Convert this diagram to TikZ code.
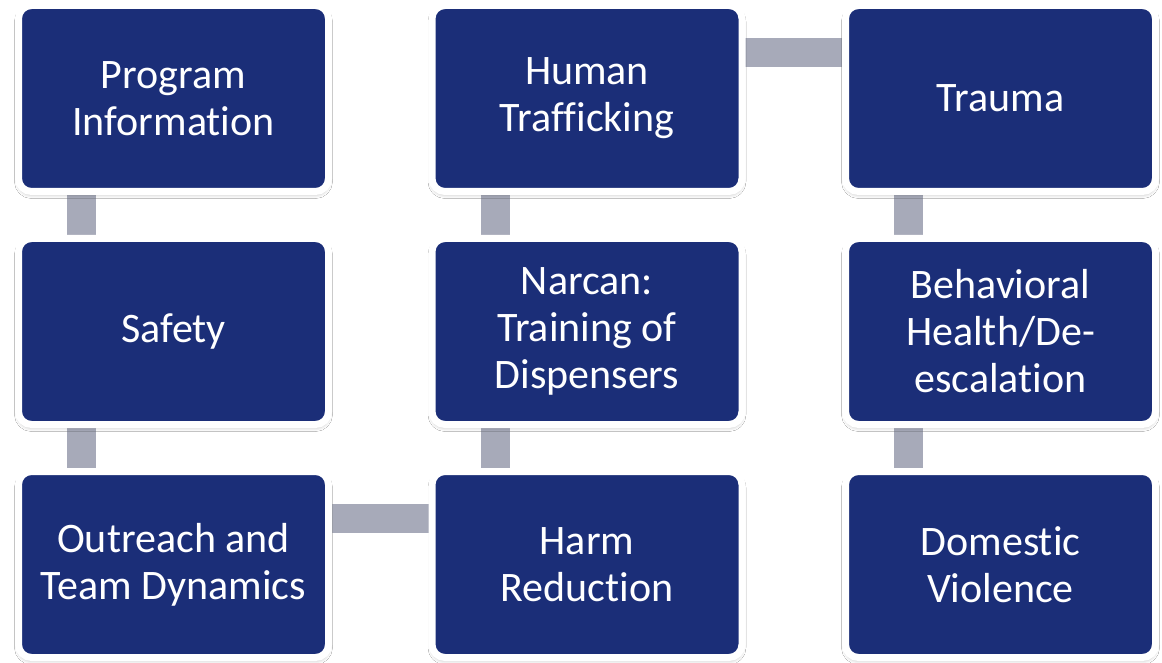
\documentclass[tikz,border=0pt]{standalone}
\usepackage{fontspec}
\setmainfont{Carlito}[Ligatures={NoCommon}]
\usetikzlibrary{calc,shadows.blur}
\definecolor{navy}{RGB}{27,46,120}
\definecolor{barcol}{RGB}{167,170,185}
\pgfdeclarelayer{background}
\pgfsetlayers{background,main}
\begin{document}
\begin{tikzpicture}[x=1pt,y=-1pt,
  topic/.style={fill=navy,draw=white,line width=7pt,rounded corners=13pt,
    minimum width=310pt,minimum height=186pt,inner sep=0pt,align=center,
    text=white,font=\fontsize{42}{47}\selectfont,
    blur shadow={shadow xshift=0pt,shadow yshift=-3pt,shadow opacity=30,shadow blur radius=4pt}},
  bar/.style={draw=barcol,line width=29pt}]
\useasboundingbox (0,0) rectangle (1162,663);
\node[topic] (a) at (173.5,98.5) {Program\\Information};
\node[topic] (b) at (173.5,331.5) {Safety};
\node[topic] (c) at (173.5,564.5) {Outreach and\\Team Dynamics};
\node[topic] (d) at (587,98.5) {Human\\Trafficking};
\node[topic] (e) at (587,331.5) {Narcan:\\Training of\\Dispensers};
\node[topic] (f) at (587,564.5) {Harm\\Reduction};
\node[topic] (g) at (1000.5,98.5) {Trauma};
\node[topic] (h) at (1000.5,331.5) {Behavioral\\Health/De-\\escalation};
\node[topic] (i) at (1000.5,564.5) {Domestic\\Violence};
\begin{pgfonlayer}{background}
\fill[white] (0,0) rectangle (1162,663);
\draw[bar] ($(a.center)+(-92.5,0)$) -- ($(b.center)+(-92.5,0)$);
\draw[bar] ($(b.center)+(-92.5,0)$) -- ($(c.center)+(-92.5,0)$);
\draw[bar] ($(c.center)+(0,-46)$) -- ($(f.center)+(0,-46)$);
\draw[bar] ($(f.center)+(-92,0)$) -- ($(e.center)+(-92,0)$);
\draw[bar] ($(e.center)+(-92,0)$) -- ($(d.center)+(-92,0)$);
\draw[bar] ($(d.center)+(0,-46)$) -- ($(g.center)+(0,-46)$);
\draw[bar] ($(g.center)+(-92.5,0)$) -- ($(h.center)+(-92.5,0)$);
\draw[bar] ($(h.center)+(-92.5,0)$) -- ($(i.center)+(-92.5,0)$);
\end{pgfonlayer}
\end{tikzpicture}
\end{document}
